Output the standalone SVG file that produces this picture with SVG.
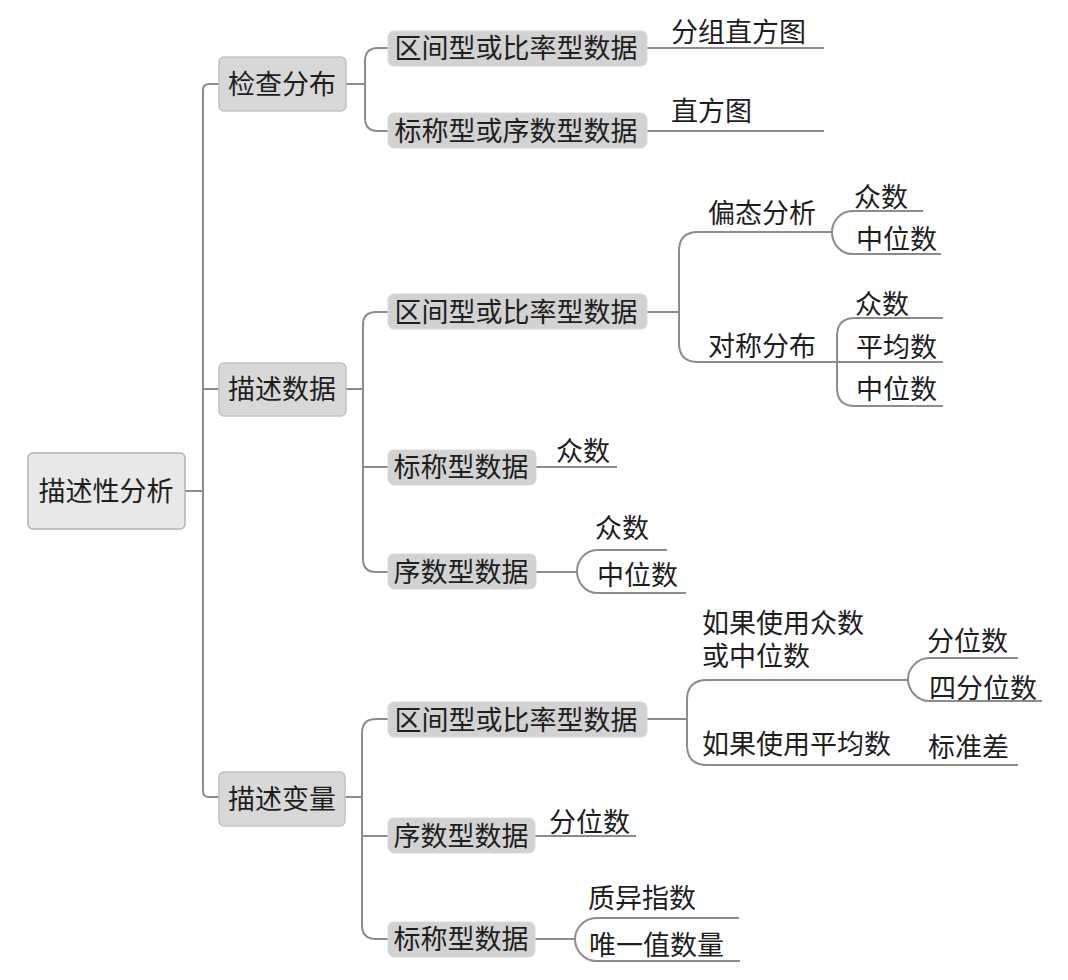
<svg xmlns="http://www.w3.org/2000/svg" width="1068" height="980" viewBox="0 0 1068 980">
<style>
text{font-family:"Noto Sans CJK SC","Noto Sans",sans-serif;font-size:27px;fill:#1e1e1e}
.root{fill:#e8e8e8;stroke:#b4b4b4;stroke-width:1.5}
.l1{fill:#d8d8d8;stroke:#c2c2c2;stroke-width:1.5}
.l2{fill:#d2d2d2;stroke:#d8d8d8;stroke-width:1}
.c{text-anchor:middle}
#connectors path{fill:none;stroke:#8c8c8c;stroke-width:2}
</style>
<rect width="1068" height="980" fill="#ffffff"/>
<g id="connectors">
<path d="M185,491 H203"/>
<path d="M219,84 H209 Q203,84 203,90 V791 Q203,797 209,797 H219"/>
<path d="M203,389 H219"/>
<path d="M346,84 H365"/>
<path d="M388,48 H378 Q365,48 365,61 V118 Q365,131 378,131 H388"/>
<path d="M647,48 H824"/>
<path d="M647,131 H824"/>
<path d="M346,389 H363"/>
<path d="M388,312 H376 Q363,312 363,325 V559 Q363,572 376,572 H388"/>
<path d="M363,467 H388"/>
<path d="M647,312 H679"/>
<path d="M832,232 H698 Q679,232 679,251 V343 Q679,362 698,362 H943"/>
<path d="M923,211 H852 C841,211 832,221 832,232 C832,244 841,254 852,254 H941"/>
<path d="M943,318 H855 Q837,318 837,336 V388 Q837,406 855,406 H943"/>
<path d="M536,467 H617"/>
<path d="M536,572 H577"/>
<path d="M667,550 H597 C586,550 577,560 577,571 C577,583 586,593 597,593 H686"/>
<path d="M345,797 H362"/>
<path d="M388,719 H376 Q362,719 362,733 V925 Q362,939 376,939 H388"/>
<path d="M362,836 H388"/>
<path d="M647,719 H687"/>
<path d="M908,680 H707 Q687,680 687,700 V745 Q687,765 707,765 H1018"/>
<path d="M1018,658 H929 C918,658 908,668 908,679 C908,691 918,701 929,701 H1042"/>
<path d="M535,836 H636"/>
<path d="M535,939 H575"/>
<path d="M739,918 H596 C585,918 575,928 575,939 C575,951 585,961 596,961 H740"/>
</g>
<g id="n-root"><rect class="root" x="28" y="453" width="157" height="76" rx="5"/><text class="c" x="106" y="501">描述性分析</text></g>
<g id="n-jcfb"><rect class="l1" x="219" y="57" width="127" height="54" rx="5"/><text class="c" x="282" y="94">检查分布</text></g>
<g id="n-mssj"><rect class="l1" x="219" y="363" width="127" height="53" rx="5"/><text class="c" x="282" y="399">描述数据</text></g>
<g id="n-msbl"><rect class="l1" x="219" y="772" width="126" height="54" rx="5"/><text class="c" x="282" y="809">描述变量</text></g>
<g id="n-a1"><rect class="l2" x="388" y="31" width="259" height="35" rx="6"/><text class="c" x="516" y="58">区间型或比率型数据</text></g>
<g id="n-a2"><rect class="l2" x="388" y="113" width="259" height="35" rx="6"/><text class="c" x="516" y="141">标称型或序数型数据</text></g>
<g id="n-a1c"><text x="671" y="42">分组直方图</text></g>
<g id="n-a2c"><text x="671" y="121">直方图</text></g>
<g id="n-b1"><rect class="l2" x="388" y="294" width="259" height="35" rx="6"/><text class="c" x="516" y="322">区间型或比率型数据</text></g>
<g id="n-b2"><rect class="l2" x="388" y="450" width="148" height="35" rx="6"/><text class="c" x="461" y="477">标称型数据</text></g>
<g id="n-b3"><rect class="l2" x="388" y="554" width="148" height="35" rx="6"/><text class="c" x="461" y="582">序数型数据</text></g>
<g id="n-b1a"><text x="708" y="223">偏态分析</text></g>
<g id="n-b1a1"><text x="854" y="207">众数</text></g>
<g id="n-b1a2"><text x="856" y="249">中位数</text></g>
<g id="n-b1b"><text x="708" y="356">对称分布</text></g>
<g id="n-b1b1"><text x="855" y="314">众数</text></g>
<g id="n-b1b2"><text x="856" y="357">平均数</text></g>
<g id="n-b1b3"><text x="856" y="399">中位数</text></g>
<g id="n-b2a"><text x="556" y="461">众数</text></g>
<g id="n-b3a"><text x="595" y="538">众数</text></g>
<g id="n-b3b"><text x="597" y="585">中位数</text></g>
<g id="n-c1"><rect class="l2" x="388" y="702" width="259" height="35" rx="6"/><text class="c" x="516" y="730">区间型或比率型数据</text></g>
<g id="n-c2"><rect class="l2" x="388" y="818" width="147" height="35" rx="6"/><text class="c" x="461" y="846">序数型数据</text></g>
<g id="n-c3"><rect class="l2" x="388" y="922" width="147" height="35" rx="6"/><text class="c" x="461" y="949">标称型数据</text></g>
<g id="n-c1a"><text x="702" y="633">如果使用众数<tspan x="702" dy="33">或中位数</tspan></text></g>
<g id="n-c1a1"><text x="927" y="651">分位数</text></g>
<g id="n-c1a2"><text x="929" y="698">四分位数</text></g>
<g id="n-c1b"><text x="702" y="754">如果使用平均数</text></g>
<g id="n-c1b1"><text x="928" y="757">标准差</text></g>
<g id="n-c2a"><text x="549" y="832">分位数</text></g>
<g id="n-c3a"><text x="588" y="908">质异指数</text></g>
<g id="n-c3b"><text x="589" y="955">唯一值数量</text></g>
</svg>
